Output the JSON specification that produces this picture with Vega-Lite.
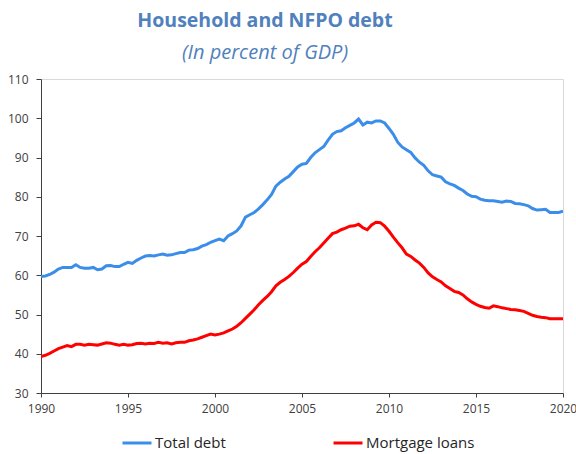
{
  "$schema": "https://vega.github.io/schema/vega-lite/v6.json",
  "width": 522,
  "height": 314,
  "padding": {"left": 5, "top": 10, "right": 5, "bottom": 5},
  "background": "white",
  "title": {
    "text": "Household and NFPO debt",
    "subtitle": "(In percent of GDP)",
    "anchor": "middle",
    "dx": -37,
    "font": "Open Sans",
    "fontSize": 19.5,
    "fontWeight": "bold",
    "color": "#4F81BD",
    "subtitleFont": "Open Sans",
    "subtitleFontSize": 20,
    "subtitleFontStyle": "italic",
    "subtitleColor": "#4F81BD",
    "subtitlePadding": 12,
    "offset": 9
  },
  "data": {
    "values": [
      {"t": 1990.0, "Total debt": 59.7, "Mortgage loans": 39.3},
      {"t": 1990.25, "Total debt": 59.8, "Mortgage loans": 39.6},
      {"t": 1990.5, "Total debt": 60.2, "Mortgage loans": 40.1},
      {"t": 1990.75, "Total debt": 60.8, "Mortgage loans": 40.7},
      {"t": 1991.0, "Total debt": 61.6, "Mortgage loans": 41.3},
      {"t": 1991.25, "Total debt": 62.0, "Mortgage loans": 41.7},
      {"t": 1991.5, "Total debt": 62.0, "Mortgage loans": 42.1},
      {"t": 1991.75, "Total debt": 62.0, "Mortgage loans": 41.8},
      {"t": 1992.0, "Total debt": 62.7, "Mortgage loans": 42.4},
      {"t": 1992.25, "Total debt": 62.0, "Mortgage loans": 42.4},
      {"t": 1992.5, "Total debt": 61.8, "Mortgage loans": 42.2},
      {"t": 1992.75, "Total debt": 61.8, "Mortgage loans": 42.4},
      {"t": 1993.0, "Total debt": 62.0, "Mortgage loans": 42.3},
      {"t": 1993.25, "Total debt": 61.4, "Mortgage loans": 42.2},
      {"t": 1993.5, "Total debt": 61.6, "Mortgage loans": 42.5},
      {"t": 1993.75, "Total debt": 62.4, "Mortgage loans": 42.8},
      {"t": 1994.0, "Total debt": 62.5, "Mortgage loans": 42.7},
      {"t": 1994.25, "Total debt": 62.2, "Mortgage loans": 42.4},
      {"t": 1994.5, "Total debt": 62.2, "Mortgage loans": 42.2},
      {"t": 1994.75, "Total debt": 62.8, "Mortgage loans": 42.4},
      {"t": 1995.0, "Total debt": 63.3, "Mortgage loans": 42.2},
      {"t": 1995.25, "Total debt": 63.0, "Mortgage loans": 42.3},
      {"t": 1995.5, "Total debt": 63.8, "Mortgage loans": 42.6},
      {"t": 1995.75, "Total debt": 64.4, "Mortgage loans": 42.7},
      {"t": 1996.0, "Total debt": 64.9, "Mortgage loans": 42.5},
      {"t": 1996.25, "Total debt": 65.0, "Mortgage loans": 42.7},
      {"t": 1996.5, "Total debt": 64.9, "Mortgage loans": 42.6},
      {"t": 1996.75, "Total debt": 65.2, "Mortgage loans": 42.9},
      {"t": 1997.0, "Total debt": 65.4, "Mortgage loans": 42.7},
      {"t": 1997.25, "Total debt": 65.1, "Mortgage loans": 42.8},
      {"t": 1997.5, "Total debt": 65.2, "Mortgage loans": 42.5},
      {"t": 1997.75, "Total debt": 65.5, "Mortgage loans": 42.8},
      {"t": 1998.0, "Total debt": 65.8, "Mortgage loans": 42.9},
      {"t": 1998.25, "Total debt": 65.8, "Mortgage loans": 42.9},
      {"t": 1998.5, "Total debt": 66.4, "Mortgage loans": 43.3},
      {"t": 1998.75, "Total debt": 66.5, "Mortgage loans": 43.5},
      {"t": 1999.0, "Total debt": 66.8, "Mortgage loans": 43.8},
      {"t": 1999.25, "Total debt": 67.4, "Mortgage loans": 44.2},
      {"t": 1999.5, "Total debt": 67.8, "Mortgage loans": 44.6},
      {"t": 1999.75, "Total debt": 68.4, "Mortgage loans": 45.0},
      {"t": 2000.0, "Total debt": 68.8, "Mortgage loans": 44.8},
      {"t": 2000.25, "Total debt": 69.2, "Mortgage loans": 45.0},
      {"t": 2000.5, "Total debt": 68.8, "Mortgage loans": 45.3},
      {"t": 2000.75, "Total debt": 70.0, "Mortgage loans": 45.8},
      {"t": 2001.0, "Total debt": 70.6, "Mortgage loans": 46.3},
      {"t": 2001.25, "Total debt": 71.3, "Mortgage loans": 47.0},
      {"t": 2001.5, "Total debt": 72.6, "Mortgage loans": 47.9},
      {"t": 2001.75, "Total debt": 74.8, "Mortgage loans": 49.0},
      {"t": 2002.0, "Total debt": 75.4, "Mortgage loans": 50.1},
      {"t": 2002.25, "Total debt": 76.0, "Mortgage loans": 51.2},
      {"t": 2002.5, "Total debt": 76.9, "Mortgage loans": 52.5},
      {"t": 2002.75, "Total debt": 78.0, "Mortgage loans": 53.6},
      {"t": 2003.0, "Total debt": 79.2, "Mortgage loans": 54.6},
      {"t": 2003.25, "Total debt": 80.6, "Mortgage loans": 55.8},
      {"t": 2003.5, "Total debt": 82.7, "Mortgage loans": 57.3},
      {"t": 2003.75, "Total debt": 83.7, "Mortgage loans": 58.2},
      {"t": 2004.0, "Total debt": 84.5, "Mortgage loans": 58.9},
      {"t": 2004.25, "Total debt": 85.2, "Mortgage loans": 59.7},
      {"t": 2004.5, "Total debt": 86.4, "Mortgage loans": 60.7},
      {"t": 2004.75, "Total debt": 87.6, "Mortgage loans": 61.8},
      {"t": 2005.0, "Total debt": 88.3, "Mortgage loans": 62.8},
      {"t": 2005.25, "Total debt": 88.5, "Mortgage loans": 63.5},
      {"t": 2005.5, "Total debt": 90.0, "Mortgage loans": 64.8},
      {"t": 2005.75, "Total debt": 91.2, "Mortgage loans": 66.0},
      {"t": 2006.0, "Total debt": 92.0, "Mortgage loans": 67.0},
      {"t": 2006.25, "Total debt": 92.8, "Mortgage loans": 68.2},
      {"t": 2006.5, "Total debt": 94.4, "Mortgage loans": 69.4},
      {"t": 2006.75, "Total debt": 95.9, "Mortgage loans": 70.6},
      {"t": 2007.0, "Total debt": 96.6, "Mortgage loans": 71.0},
      {"t": 2007.25, "Total debt": 96.8, "Mortgage loans": 71.6},
      {"t": 2007.5, "Total debt": 97.6, "Mortgage loans": 72.0},
      {"t": 2007.75, "Total debt": 98.2, "Mortgage loans": 72.5},
      {"t": 2008.0, "Total debt": 98.8, "Mortgage loans": 72.6},
      {"t": 2008.25, "Total debt": 99.8, "Mortgage loans": 73.0},
      {"t": 2008.5, "Total debt": 98.3, "Mortgage loans": 72.1},
      {"t": 2008.75, "Total debt": 99.0, "Mortgage loans": 71.6},
      {"t": 2009.0, "Total debt": 98.8, "Mortgage loans": 72.8},
      {"t": 2009.25, "Total debt": 99.3, "Mortgage loans": 73.5},
      {"t": 2009.5, "Total debt": 99.3, "Mortgage loans": 73.4},
      {"t": 2009.75, "Total debt": 98.8, "Mortgage loans": 72.5},
      {"t": 2010.0, "Total debt": 97.4, "Mortgage loans": 71.2},
      {"t": 2010.25, "Total debt": 95.9, "Mortgage loans": 69.7},
      {"t": 2010.5, "Total debt": 93.9, "Mortgage loans": 68.3},
      {"t": 2010.75, "Total debt": 92.7, "Mortgage loans": 67.0},
      {"t": 2011.0, "Total debt": 92.0, "Mortgage loans": 65.4},
      {"t": 2011.25, "Total debt": 91.3, "Mortgage loans": 64.8},
      {"t": 2011.5, "Total debt": 89.9, "Mortgage loans": 63.9},
      {"t": 2011.75, "Total debt": 88.8, "Mortgage loans": 63.1},
      {"t": 2012.0, "Total debt": 88.0, "Mortgage loans": 62.0},
      {"t": 2012.25, "Total debt": 86.6, "Mortgage loans": 60.6},
      {"t": 2012.5, "Total debt": 85.6, "Mortgage loans": 59.6},
      {"t": 2012.75, "Total debt": 85.3, "Mortgage loans": 58.9},
      {"t": 2013.0, "Total debt": 85.0, "Mortgage loans": 58.3},
      {"t": 2013.25, "Total debt": 83.8, "Mortgage loans": 57.3},
      {"t": 2013.5, "Total debt": 83.3, "Mortgage loans": 56.6},
      {"t": 2013.75, "Total debt": 82.9, "Mortgage loans": 55.9},
      {"t": 2014.0, "Total debt": 82.2, "Mortgage loans": 55.6},
      {"t": 2014.25, "Total debt": 81.6, "Mortgage loans": 55.0},
      {"t": 2014.5, "Total debt": 80.7, "Mortgage loans": 54.0},
      {"t": 2014.75, "Total debt": 80.1, "Mortgage loans": 53.2},
      {"t": 2015.0, "Total debt": 80.0, "Mortgage loans": 52.6},
      {"t": 2015.25, "Total debt": 79.4, "Mortgage loans": 52.1},
      {"t": 2015.5, "Total debt": 79.1, "Mortgage loans": 51.8},
      {"t": 2015.75, "Total debt": 79.0, "Mortgage loans": 51.6},
      {"t": 2016.0, "Total debt": 79.0, "Mortgage loans": 52.2},
      {"t": 2016.25, "Total debt": 78.8, "Mortgage loans": 52.0},
      {"t": 2016.5, "Total debt": 78.6, "Mortgage loans": 51.7},
      {"t": 2016.75, "Total debt": 78.9, "Mortgage loans": 51.5},
      {"t": 2017.0, "Total debt": 78.8, "Mortgage loans": 51.3},
      {"t": 2017.25, "Total debt": 78.3, "Mortgage loans": 51.2},
      {"t": 2017.5, "Total debt": 78.2, "Mortgage loans": 51.0},
      {"t": 2017.75, "Total debt": 78.0, "Mortgage loans": 50.8},
      {"t": 2018.0, "Total debt": 77.7, "Mortgage loans": 50.3},
      {"t": 2018.25, "Total debt": 77.0, "Mortgage loans": 49.8},
      {"t": 2018.5, "Total debt": 76.6, "Mortgage loans": 49.5},
      {"t": 2018.75, "Total debt": 76.7, "Mortgage loans": 49.3},
      {"t": 2019.0, "Total debt": 76.8, "Mortgage loans": 49.2},
      {"t": 2019.25, "Total debt": 76.0, "Mortgage loans": 48.9},
      {"t": 2019.5, "Total debt": 76.0, "Mortgage loans": 48.9},
      {"t": 2019.75, "Total debt": 76.0, "Mortgage loans": 48.9},
      {"t": 2020.0, "Total debt": 76.3, "Mortgage loans": 48.9}
    ]
  },
  "transform": [{"fold": ["Total debt", "Mortgage loans"], "as": ["series", "value"]}],
  "mark": {"type": "line", "strokeWidth": 3, "clip": true},
  "encoding": {
    "x": {
      "field": "t",
      "type": "quantitative",
      "scale": {"domain": [1990, 2020], "nice": false, "zero": false},
      "axis": {
        "title": null,
        "grid": false,
        "values": [1990, 1995, 2000, 2005, 2010, 2015, 2020],
        "format": "d",
        "tickSize": 4,
        "labelPadding": 6,
        "labelFlush": false
      }
    },
    "y": {
      "field": "value",
      "type": "quantitative",
      "scale": {"domain": [30, 110], "nice": false, "zero": false},
      "axis": {
        "title": null,
        "grid": false,
        "values": [30, 40, 50, 60, 70, 80, 90, 100, 110],
        "tickSize": 5,
        "labelPadding": 8,
        "labelFlush": false,
        "minExtent": 36
      }
    },
    "color": {
      "field": "series",
      "type": "nominal",
      "scale": {"domain": ["Total debt", "Mortgage loans"], "range": ["#3A8EE9", "#FF0000"]},
      "legend": {
        "title": null,
        "orient": "none",
        "legendX": 80,
        "legendY": 348,
        "direction": "horizontal",
        "symbolType": "stroke",
        "symbolSize": 841,
        "symbolStrokeWidth": 3,
        "labelFont": "Open Sans",
        "labelFontSize": 15,
        "labelColor": "#262626",
        "labelOffset": 2,
        "columnPadding": 101
      }
    }
  },
  "config": {
    "view": {"stroke": "#D9D9D9"},
    "axis": {
      "domainColor": "#404040",
      "tickColor": "#404040",
      "labelColor": "#404040",
      "labelFont": "Open Sans",
      "labelFontSize": 12
    }
  }
}
